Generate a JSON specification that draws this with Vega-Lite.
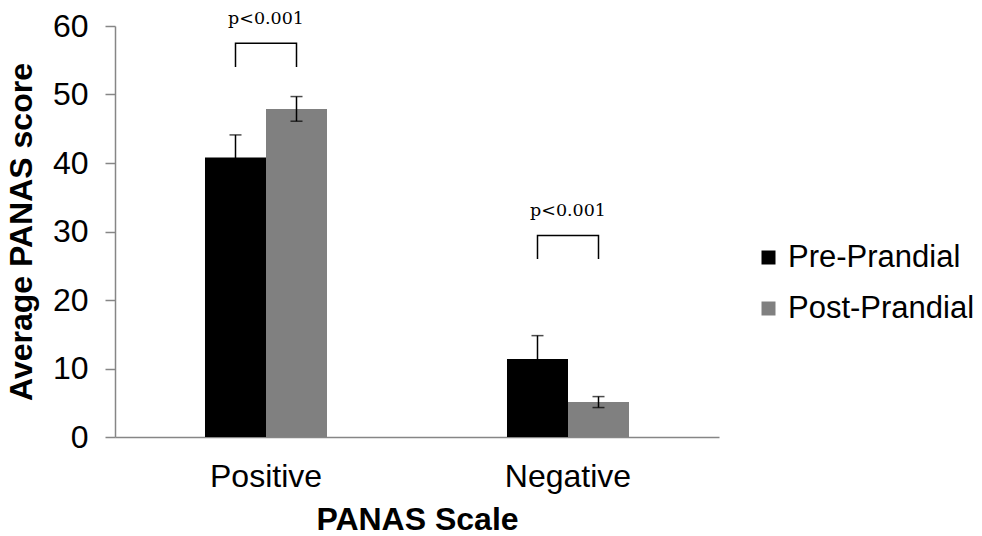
{
  "$schema": "https://vega.github.io/schema/vega-lite/v6.json",
  "width": 604,
  "height": 411,
  "autosize": {"type": "none"},
  "padding": {"left": 115, "top": 26, "right": 263, "bottom": 99},
  "config": {
    "view": {"stroke": null},
    "font": "Liberation Sans",
    "axis": {"grid": false, "domainColor": "#868686", "domainWidth": 1.5, "tickColor": "#868686", "tickWidth": 1.5, "labelColor": "#000000", "titleColor": "#000000"}
  },
  "datasets": {
    "scores": [
      {"scale": "Positive", "time": "Pre-Prandial", "mean": 40.8, "lo": 37.5, "hi": 44.1},
      {"scale": "Positive", "time": "Post-Prandial", "mean": 47.9, "lo": 46.1, "hi": 49.7},
      {"scale": "Negative", "time": "Pre-Prandial", "mean": 11.4, "lo": 8.0, "hi": 14.8},
      {"scale": "Negative", "time": "Post-Prandial", "mean": 5.1, "lo": 4.3, "hi": 5.9}
    ],
    "brackets": [
      {"scale": "Positive", "time": "Pre-Prandial", "step": 1, "level": 54.0},
      {"scale": "Positive", "time": "Pre-Prandial", "step": 2, "level": 57.5},
      {"scale": "Positive", "time": "Post-Prandial", "step": 3, "level": 57.5},
      {"scale": "Positive", "time": "Post-Prandial", "step": 4, "level": 54.0},
      {"scale": "Negative", "time": "Pre-Prandial", "step": 1, "level": 26.0},
      {"scale": "Negative", "time": "Pre-Prandial", "step": 2, "level": 29.4},
      {"scale": "Negative", "time": "Post-Prandial", "step": 3, "level": 29.4},
      {"scale": "Negative", "time": "Post-Prandial", "step": 4, "level": 26.0}
    ],
    "tests": [
      {"scale": "Positive", "label": "p<0.001", "level": 61.0},
      {"scale": "Negative", "label": "p<0.001", "level": 33.0}
    ]
  },
  "encoding": {
    "x": {
      "field": "scale",
      "type": "nominal",
      "sort": ["Positive", "Negative"],
      "scale": {"domain": ["Positive", "Negative"], "paddingInner": 0.596, "paddingOuter": 0.298},
      "axis": {
        "title": "PANAS Scale",
        "labelAngle": 0,
        "ticks": false,
        "tickSize": 0,
        "labelFontSize": 32,
        "labelPadding": 24,
        "titleFontSize": 32,
        "titleFontWeight": "bold",
        "titlePadding": 12
      }
    }
  },
  "layer": [
    {
      "data": {"name": "scores"},
      "mark": {"type": "bar"},
      "encoding": {
        "xOffset": {"field": "time", "type": "nominal", "sort": ["Pre-Prandial", "Post-Prandial"], "scale": {"paddingInner": 0, "paddingOuter": 0}},
        "y": {
          "field": "mean",
          "type": "quantitative",
          "scale": {"domain": [0, 60], "nice": false},
          "axis": {
            "title": "Average PANAS score",
            "values": [0, 10, 20, 30, 40, 50, 60],
            "tickSize": 10,
            "labelFontSize": 32,
            "labelPadding": 17,
            "titleFontSize": 32,
            "titleFontWeight": "bold",
            "titlePadding": 14
          }
        },
        "color": {
          "field": "time",
          "type": "nominal",
          "sort": ["Pre-Prandial", "Post-Prandial"],
          "scale": {"domain": ["Pre-Prandial", "Post-Prandial"], "range": ["#000000", "#808080"]},
          "legend": {
            "title": null,
            "orient": "none",
            "legendX": 638,
            "legendY": 216,
            "padding": 0,
            "symbolType": "square",
            "symbolSize": 196,
            "symbolStrokeWidth": 0,
            "labelFontSize": 31,
            "labelOffset": 4,
            "labelLimit": 400,
            "rowPadding": 19,
            "labelColor": "#000000"
          }
        }
      }
    },
    {
      "data": {"name": "scores"},
      "mark": {"type": "rule", "color": "#000000", "strokeWidth": 1.5},
      "encoding": {
        "xOffset": {"field": "time", "type": "nominal", "sort": ["Pre-Prandial", "Post-Prandial"]},
        "y": {"field": "lo", "type": "quantitative"},
        "y2": {"field": "hi"}
      }
    },
    {
      "data": {"name": "scores"},
      "mark": {"type": "tick", "color": "#000000", "size": 12, "thickness": 1.5, "orient": "horizontal"},
      "encoding": {
        "xOffset": {"field": "time", "type": "nominal", "sort": ["Pre-Prandial", "Post-Prandial"]},
        "y": {"field": "hi", "type": "quantitative"}
      }
    },
    {
      "data": {"name": "scores"},
      "mark": {"type": "tick", "color": "#000000", "size": 12, "thickness": 1.5, "orient": "horizontal"},
      "encoding": {
        "xOffset": {"field": "time", "type": "nominal", "sort": ["Pre-Prandial", "Post-Prandial"]},
        "y": {"field": "lo", "type": "quantitative"}
      }
    },
    {
      "data": {"name": "brackets"},
      "mark": {"type": "line", "color": "#000000", "strokeWidth": 1.5},
      "encoding": {
        "xOffset": {"field": "time", "type": "nominal", "sort": ["Pre-Prandial", "Post-Prandial"]},
        "y": {"field": "level", "type": "quantitative"},
        "detail": {"field": "scale"},
        "order": {"field": "step", "type": "quantitative"}
      }
    },
    {
      "data": {"name": "tests"},
      "mark": {"type": "text", "font": "DejaVu Serif", "fontSize": 17.5, "color": "#000000", "baseline": "middle", "align": "center"},
      "encoding": {
        "y": {"field": "level", "type": "quantitative"},
        "text": {"field": "label"}
      }
    }
  ]
}
